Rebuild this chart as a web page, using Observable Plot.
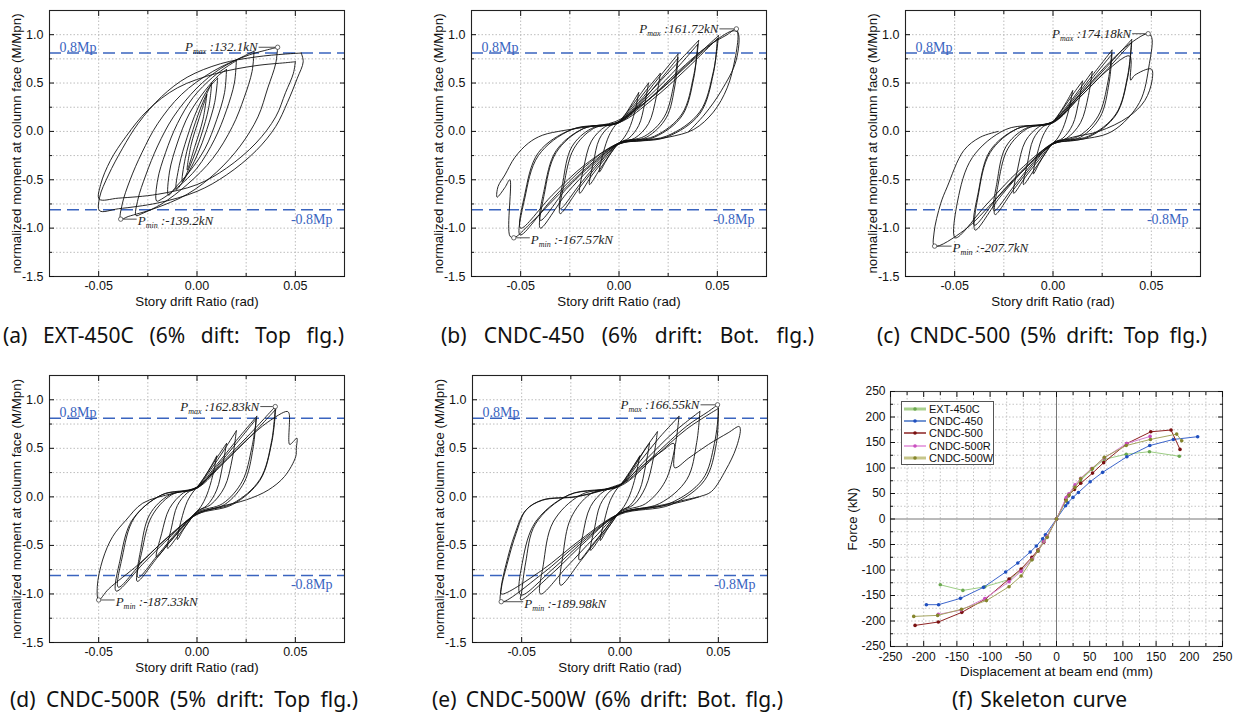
<!DOCTYPE html>
<html><head><meta charset="utf-8">
<script src="https://cdn.jsdelivr.net/npm/d3@7"></script>
<script src="https://cdn.jsdelivr.net/npm/@observablehq/plot@0.6"></script>
<style>
body{margin:0;background:#fff}
#root{position:relative;width:1235px;height:712px;overflow:hidden;background:#fff}
.panel{position:absolute}
.cap{position:absolute;font-family:"Noto Sans","Noto Sans CJK KR",sans-serif;font-size:21px;line-height:22px;height:22px;color:#111;text-align:justify;text-align-last:justify;white-space:normal}
.legend{position:absolute;border:1px solid #555;background:#fff;font-family:"Liberation Sans",Arial,sans-serif;font-size:11px;color:#111}
.legend .row{position:absolute;left:2px;height:12px;line-height:12px;white-space:nowrap}
.legend svg{position:absolute;left:0;top:2px}
.legend span{position:absolute;left:25px;top:0}
</style>
</head><body><div id="root"></div>
<script>
// ---------- tick values ----------
const xMajor = [-0.05, 0, 0.05];
const xMinor = [-0.025, 0.025];
const xGrid = [-0.05, -0.025, 0, 0.025, 0.05];
const yMajor = [-1.5, -1.0, -0.5, 0, 0.5, 1.0];
const yMinor = [-1.25, -0.75, -0.25, 0.25, 0.75];
const yGrid = [-1.25, -1.0, -0.75, -0.5, -0.25, 0, 0.25, 0.5, 0.75, 1.0];
const mpLevels = [0.81, -0.81];

const sMajor = [-250, -200, -150, -100, -50, 0, 50, 100, 150, 200, 250];
const sMinor = [-225, -175, -125, -75, -25, 25, 75, 125, 175, 225];
const sGrid = [-225, -200, -175, -150, -125, -100, -75, -50, -25, 25, 50, 75, 100, 125, 150, 175, 200, 225];

// ---------- (a) EXT-450C loops ----------
const loopsA = [
 [[0.005,0.38],[0.003,0.12],[-0.001,-0.15],[-0.005,-0.40],[-0.003,-0.14],[0.001,0.13],[0.005,0.38]],
 [[0.0075,0.50],[0.006,0.25],[0.002,-0.05],[-0.003,-0.33],[-0.0075,-0.52],[-0.006,-0.28],[-0.002,0.02],[0.003,0.30],[0.0075,0.50]],
 [[0.0105,0.55],[0.009,0.30],[0.005,0.02],[0.0,-0.25],[-0.006,-0.48],[-0.0105,-0.60],[-0.009,-0.35],[-0.005,-0.06],[0.0,0.22],[0.006,0.45],[0.0105,0.55]],
 [[0.015,0.64],[0.014,0.40],[0.010,0.12],[0.004,-0.18],[-0.004,-0.42],[-0.011,-0.58],[-0.0145,-0.66],[-0.014,-0.42],[-0.010,-0.12],[-0.004,0.18],[0.004,0.42],[0.011,0.58],[0.015,0.64]],
 [[0.020,0.73],[0.019,0.50],[0.015,0.22],[0.009,-0.08],[0.000,-0.38],[-0.010,-0.58],[-0.018,-0.70],[-0.0205,-0.72],[-0.020,-0.50],[-0.016,-0.22],[-0.010,0.08],[-0.002,0.35],[0.008,0.56],[0.016,0.68],[0.020,0.73]],
 [[0.029,0.83],[0.028,0.62],[0.024,0.35],[0.018,0.05],[0.008,-0.28],[-0.005,-0.55],[-0.018,-0.75],[-0.028,-0.85],[-0.031,-0.87],[-0.030,-0.70],[-0.026,-0.45],[-0.020,-0.15],[-0.012,0.15],[0.000,0.45],[0.012,0.65],[0.024,0.78],[0.029,0.83]],
 [[0.041,0.87],[0.040,0.70],[0.036,0.45],[0.031,0.15],[0.022,-0.15],[0.010,-0.42],[-0.005,-0.65],[-0.022,-0.80],[-0.035,-0.88],[-0.0388,-0.907],[-0.038,-0.75],[-0.034,-0.50],[-0.028,-0.22],[-0.020,0.08],[-0.008,0.38],[0.008,0.62],[0.025,0.78],[0.037,0.85],[0.041,0.87]],
 [[0.053,0.81],[0.054,0.72],[0.051,0.55],[0.046,0.30],[0.040,0.05],[0.030,-0.20],[0.015,-0.45],[0.0,-0.62],[-0.02,-0.74],[-0.04,-0.80],[-0.0495,-0.82],[-0.0495,-0.68],[-0.045,-0.45],[-0.038,-0.18],[-0.030,0.08],[-0.018,0.36],[-0.005,0.56],[0.012,0.70],[0.030,0.77],[0.045,0.80],[0.053,0.81]],
 [[0.050,0.72],[0.049,0.60],[0.045,0.40],[0.040,0.15],[0.030,-0.12],[0.015,-0.38],[0.0,-0.55],[-0.02,-0.65],[-0.04,-0.69],[-0.0497,-0.70],[-0.049,-0.55],[-0.044,-0.30],[-0.036,-0.05],[-0.025,0.22],[-0.010,0.45],[0.010,0.60],[0.030,0.68],[0.045,0.71],[0.050,0.72]]
];
const pathsA = [];

// ---------- (b) CNDC-450 loops ----------
const loopsB = [
 [[0.01,0.40],[0.008,0.2],[0.005,0.02],[0.002,-0.08],[0,-0.12],[-0.004,-0.22],[-0.007,-0.32],[-0.01,-0.42],[-0.008,-0.22],[-0.005,-0.04],[-0.002,0.06],[0,0.10],[0.004,0.20],[0.007,0.30],[0.01,0.40]],
 [[0.015,0.50],[0.013,0.28],[0.010,0.06],[0.005,-0.07],[0,-0.12],[-0.005,-0.25],[-0.010,-0.40],[-0.015,-0.55],[-0.013,-0.32],[-0.010,-0.08],[-0.005,0.05],[0,0.10],[0.005,0.22],[0.010,0.36],[0.015,0.50]],
 [[0.021,0.60],[0.019,0.36],[0.015,0.08],[0.008,-0.07],[0,-0.12],[-0.007,-0.28],[-0.014,-0.46],[-0.020,-0.64],[-0.018,-0.38],[-0.014,-0.10],[-0.007,0.05],[0,0.10],[0.007,0.25],[0.014,0.43],[0.021,0.60]],
 [[0.030,0.80],[0.028,0.50],[0.023,0.15],[0.013,-0.05],[0,-0.12],[-0.010,-0.33],[-0.020,-0.58],[-0.030,-0.85],[-0.028,-0.55],[-0.023,-0.18],[-0.013,0.03],[0,0.10],[0.010,0.30],[0.020,0.55],[0.030,0.80]],
 [[0.030,0.76],[0.0285,0.48],[0.024,0.14],[0.014,-0.06],[0,-0.13],[-0.010,-0.31],[-0.020,-0.55],[-0.030,-0.80],[-0.0285,-0.52],[-0.024,-0.16],[-0.014,0.03],[0,0.09],[0.010,0.27],[0.020,0.51],[0.030,0.76]],
 [[0.0405,0.94],[0.038,0.58],[0.032,0.18],[0.018,-0.05],[0,-0.12],[-0.013,-0.35],[-0.027,-0.65],[-0.040,-1.0],[-0.038,-0.65],[-0.032,-0.22],[-0.018,0.03],[0,0.10],[0.013,0.35],[0.027,0.65],[0.0405,0.94]],
 [[0.040,0.90],[0.038,0.55],[0.032,0.16],[0.018,-0.06],[0,-0.13],[-0.013,-0.33],[-0.027,-0.60],[-0.040,-0.92],[-0.038,-0.60],[-0.032,-0.2],[-0.018,0.03],[0,0.09],[0.013,0.32],[0.027,0.60],[0.040,0.90]],
 [[0.0506,0.99],[0.048,0.62],[0.041,0.20],[0.024,-0.05],[0,-0.12],[-0.017,-0.36],[-0.034,-0.70],[-0.0503,-1.07],[-0.048,-0.7],[-0.041,-0.25],[-0.024,0.02],[0,0.10],[0.017,0.36],[0.034,0.68],[0.0506,0.99]],
 [[0.050,0.96],[0.048,0.6],[0.041,0.18],[0.024,-0.06],[0,-0.13],[-0.017,-0.34],[-0.034,-0.66],[-0.050,-1.0],[-0.048,-0.66],[-0.041,-0.22],[-0.024,0.02],[0,0.09],[0.017,0.33],[0.034,0.64],[0.050,0.96]]
];
const pathsB = [
 [[0.0,0.10],[0.015,0.33],[0.03,0.62],[0.045,0.88],[0.055,1.0],[0.0597,1.06],[0.0605,1.0],[0.059,0.75],[0.055,0.45],[0.048,0.2],[0.038,0.02],[0.025,-0.06],[0.01,-0.10],[0.0,-0.12],[-0.015,-0.35],[-0.03,-0.64],[-0.045,-0.95],[-0.0535,-1.10],[-0.0555,-1.08],[-0.0555,-0.50],[-0.058,-0.58],[-0.062,-0.68],[-0.0615,-0.57],[-0.058,-0.45],[-0.053,-0.27],[-0.046,-0.12],[-0.039,-0.04],[-0.028,0.01],[-0.015,0.05],[-0.002,0.10],[0.012,0.28],[0.025,0.5],[0.04,0.78],[0.052,0.98],[0.058,1.04],[0.0605,1.02],[0.0595,0.73],[0.052,0.42],[0.0437,0.18],[0.0355,0.0]]
];

// ---------- (c) CNDC-500 loops ----------
const loopsC = [
 [[0.01,0.42],[0.008,0.22],[0.005,0.03],[0.002,-0.08],[0,-0.12],[-0.004,-0.23],[-0.007,-0.33],[-0.01,-0.44],[-0.008,-0.23],[-0.005,-0.04],[-0.002,0.06],[0,0.10],[0.004,0.21],[0.007,0.31],[0.01,0.42]],
 [[0.015,0.52],[0.013,0.30],[0.010,0.07],[0.005,-0.07],[0,-0.12],[-0.005,-0.26],[-0.010,-0.41],[-0.015,-0.55],[-0.013,-0.33],[-0.010,-0.08],[-0.005,0.05],[0,0.10],[0.005,0.23],[0.010,0.38],[0.015,0.52]],
 [[0.020,0.62],[0.018,0.37],[0.014,0.09],[0.007,-0.07],[0,-0.12],[-0.007,-0.29],[-0.014,-0.47],[-0.020,-0.64],[-0.018,-0.39],[-0.014,-0.10],[-0.007,0.05],[0,0.10],[0.007,0.26],[0.014,0.45],[0.020,0.62]],
 [[0.030,0.84],[0.028,0.52],[0.023,0.16],[0.013,-0.05],[0,-0.12],[-0.010,-0.34],[-0.020,-0.60],[-0.0295,-0.86],[-0.028,-0.56],[-0.023,-0.18],[-0.013,0.03],[0,0.10],[0.010,0.32],[0.020,0.58],[0.030,0.84]],
 [[0.030,0.80],[0.0285,0.50],[0.024,0.15],[0.014,-0.06],[0,-0.13],[-0.010,-0.32],[-0.020,-0.57],[-0.030,-0.82],[-0.0285,-0.53],[-0.024,-0.16],[-0.014,0.03],[0,0.09],[0.010,0.30],[0.020,0.55],[0.030,0.80]],
 [[0.040,0.95],[0.038,0.58],[0.032,0.18],[0.018,-0.05],[0,-0.12],[-0.013,-0.36],[-0.027,-0.68],[-0.0396,-1.02],[-0.038,-0.66],[-0.032,-0.22],[-0.018,0.03],[0,0.10],[0.013,0.36],[0.027,0.66],[0.040,0.95]],
 [[0.040,0.92],[0.038,0.56],[0.032,0.17],[0.018,-0.06],[0,-0.13],[-0.013,-0.35],[-0.027,-0.65],[-0.040,-0.97],[-0.038,-0.63],[-0.032,-0.2],[-0.018,0.03],[0,0.09],[0.013,0.34],[0.027,0.63],[0.040,0.92]]
];
const pathsC = [
 [[0,0.10],[0.013,0.36],[0.027,0.68],[0.040,0.92],[0.0484,1.01],[0.0502,0.97],[0.049,0.7],[0.044,0.30],[0.030,0.0],[0.012,-0.09],[0,-0.13],[-0.017,-0.40],[-0.034,-0.76],[-0.0497,-1.10],[-0.0485,-0.72],[-0.041,-0.27],[-0.024,0.02],[0,0.10],[0.013,0.34],[0.027,0.62],[0.039,0.78],[0.0395,0.53],[0.0415,0.58],[0.050,0.645],[0.0504,0.53],[0.0467,0.32],[0.0383,0.15],[0.0233,0.0],[0.010,-0.06],[0,-0.13],[-0.015,-0.40],[-0.030,-0.72],[-0.045,-1.02],[-0.0602,-1.186],[-0.0605,-1.05],[-0.0571,-0.745],[-0.0538,-0.574],[-0.0454,-0.198],[-0.037,-0.06],[-0.0278,0.0]]
];

// ---------- (d) CNDC-500R loops ----------
const loopsD = [
 [[0.01,0.42],[0.008,0.22],[0.005,0.02],[0.002,-0.10],[0,-0.15],[-0.004,-0.25],[-0.007,-0.34],[-0.01,-0.44],[-0.008,-0.24],[-0.005,-0.05],[-0.002,0.05],[0,0.10],[0.004,0.21],[0.007,0.31],[0.01,0.42]],
 [[0.015,0.55],[0.013,0.32],[0.010,0.07],[0.005,-0.09],[0,-0.15],[-0.005,-0.28],[-0.010,-0.41],[-0.015,-0.53],[-0.013,-0.32],[-0.010,-0.09],[-0.005,0.04],[0,0.10],[0.005,0.24],[0.010,0.40],[0.015,0.55]],
 [[0.020,0.68],[0.018,0.40],[0.014,0.10],[0.007,-0.08],[0,-0.15],[-0.007,-0.31],[-0.014,-0.47],[-0.0206,-0.62],[-0.018,-0.38],[-0.014,-0.12],[-0.007,0.04],[0,0.10],[0.007,0.28],[0.014,0.49],[0.020,0.68]],
 [[0.0304,0.83],[0.028,0.52],[0.023,0.16],[0.013,-0.07],[0,-0.16],[-0.010,-0.37],[-0.020,-0.62],[-0.0304,-0.87],[-0.028,-0.56],[-0.023,-0.20],[-0.013,0.02],[0,0.10],[0.010,0.33],[0.020,0.58],[0.0304,0.83]],
 [[0.030,0.80],[0.0285,0.50],[0.024,0.15],[0.014,-0.08],[0,-0.17],[-0.010,-0.36],[-0.020,-0.60],[-0.030,-0.83],[-0.0285,-0.53],[-0.024,-0.18],[-0.014,0.02],[0,0.09],[0.010,0.31],[0.020,0.55],[0.030,0.80]],
 [[0.0398,0.93],[0.038,0.58],[0.032,0.18],[0.018,-0.07],[0,-0.17],[-0.013,-0.40],[-0.027,-0.68],[-0.0411,-0.97],[-0.039,-0.64],[-0.033,-0.24],[-0.018,0.02],[0,0.10],[0.013,0.36],[0.027,0.65],[0.0398,0.93]],
 [[0.040,0.90],[0.038,0.56],[0.032,0.17],[0.018,-0.08],[0,-0.18],[-0.013,-0.38],[-0.027,-0.65],[-0.040,-0.93],[-0.038,-0.62],[-0.032,-0.22],[-0.018,0.02],[0,0.09],[0.013,0.34],[0.027,0.62],[0.040,0.90]]
];
const pathsD = [
 [[0,0.09],[0.012,0.32],[0.025,0.58],[0.036,0.77],[0.0458,0.88],[0.0468,0.86],[0.0471,0.54],[0.049,0.57],[0.0508,0.605],[0.0505,0.50],[0.0502,0.415],[0.0445,0.21],[0.0362,0.07],[0.0252,-0.03],[0.012,-0.10],[0,-0.18],[-0.015,-0.42],[-0.030,-0.70],[-0.045,-0.95],[-0.050,-1.062],[-0.0507,-0.925],[-0.048,-0.65],[-0.0429,-0.41],[-0.0361,-0.24],[-0.0276,-0.065],[-0.0122,0.036],[-0.0003,0.09],[0.008,0.25]]
];

// ---------- (e) CNDC-500W loops ----------
const loopsE = [
 [[0.01,0.42],[0.008,0.22],[0.005,0.02],[0.002,-0.10],[0,-0.15],[-0.004,-0.26],[-0.007,-0.35],[-0.01,-0.45],[-0.008,-0.25],[-0.005,-0.04],[-0.002,0.07],[0,0.12],[0.004,0.22],[0.007,0.32],[0.01,0.42]],
 [[0.015,0.55],[0.013,0.32],[0.010,0.07],[0.005,-0.09],[0,-0.15],[-0.005,-0.29],[-0.010,-0.42],[-0.015,-0.55],[-0.013,-0.33],[-0.010,-0.08],[-0.005,0.06],[0,0.12],[0.005,0.26],[0.010,0.41],[0.015,0.55]],
 [[0.019,0.67],[0.017,0.40],[0.013,0.10],[0.007,-0.08],[0,-0.15],[-0.007,-0.32],[-0.014,-0.49],[-0.0207,-0.65],[-0.019,-0.40],[-0.015,-0.10],[-0.008,0.06],[0,0.12],[0.007,0.30],[0.013,0.50],[0.019,0.67]],
 [[0.030,0.83],[0.028,0.52],[0.023,0.16],[0.013,-0.07],[0,-0.16],[-0.010,-0.40],[-0.020,-0.66],[-0.0302,-0.91],[-0.029,-0.60],[-0.025,-0.22],[-0.015,0.03],[0,0.12],[0.010,0.36],[0.020,0.61],[0.030,0.83]],
 [[0.0406,0.88],[0.039,0.56],[0.034,0.18],[0.020,-0.07],[0,-0.17],[-0.013,-0.42],[-0.027,-0.72],[-0.0404,-1.0],[-0.039,-0.70],[-0.034,-0.26],[-0.020,0.02],[0,0.12],[0.013,0.38],[0.027,0.66],[0.0406,0.88]],
 [[0.0496,0.948],[0.050,0.90],[0.048,0.55],[0.042,0.18],[0.025,-0.07],[0,-0.17],[-0.017,-0.45],[-0.034,-0.78],[-0.0505,-1.06],[-0.050,-0.98],[-0.048,-0.68],[-0.043,-0.28],[-0.026,0.02],[0,0.12],[0.017,0.42],[0.034,0.73],[0.045,0.88],[0.0496,0.948]],
 [[0.050,0.91],[0.049,0.55],[0.043,0.17],[0.026,-0.08],[0,-0.18],[-0.017,-0.43],[-0.034,-0.74],[-0.0505,-1.01],[-0.0495,-0.66],[-0.043,-0.26],[-0.026,0.02],[0,0.11],[0.017,0.40],[0.034,0.70],[0.050,0.91]]
];
const pathsE = [
 [[0.0014,0.14],[0.012,0.33],[0.022,0.48],[0.0274,0.55],[0.0278,0.30],[0.035,0.40],[0.045,0.54],[0.055,0.66],[0.0606,0.725],[0.0612,0.69],[0.059,0.50],[0.0538,0.278],[0.0465,0.055],[0.0406,0.003],[0.025,-0.08],[0.010,-0.13],[0,-0.17],[-0.020,-0.46],[-0.040,-0.80],[-0.0604,-1.08],[-0.0604,-0.95],[-0.0575,-0.70],[-0.0528,-0.375],[-0.0477,-0.134],[-0.0393,-0.031],[-0.0224,0.003],[-0.0088,0.07],[0.0014,0.14]],
 [[0.040,0.0],[0.02,-0.09],[0,-0.17],[-0.02,-0.44],[-0.04,-0.76],[-0.0604,-1.0],[-0.0604,-0.93],[-0.058,-0.70],[-0.0535,-0.385],[-0.048,-0.14],[-0.0395,-0.035],[-0.0224,0.0],[-0.009,0.065],[0.0,0.12]]
];

// ---------- (f) skeleton curves ----------
const skelNames = ["EXT-450C", "CNDC-450", "CNDC-500", "CNDC-500R", "CNDC-500W"];
const extX  = [-175,-141,-108,-70,-53,-37,-28,-20,-14,0,14,18,27,36,53,72,105,140,185];
const extY  = [-129,-140,-133,-118,-100,-80,-62,-44,-33,0,36,45,63,75,97,117,127,132,123];
const c450X = [-196,-177.6,-144.6,-110,-76.6,-58.3,-39.6,-30.4,-20.8,-16.7,0,13.7,17,24.8,33,50.7,69.5,106,140.5,176,212.6];
const c450Y = [-168,-168,-155.6,-134,-104,-86.3,-64.8,-53,-38.6,-30.8,0,26,31.7,42.4,52,73,91.5,122,144,156,161.4];
const c500X = [-213,-178,-142.6,-107,-71.5,-53.3,-37,-27.9,-19.3,-14.2,0,14,18,27,36.5,54.3,71,106,142,172.5,186];
const c500Y = [-208.6,-202,-183,-157,-117.7,-98,-75,-60.8,-45.8,-35,0,38,46,58,70,90,110.5,148,171,174.5,136.5];
const c500RX = [-178,-143.5,-108,-71.5,-53.3,-36,-28,-19,-14,0,14.7,18.7,27.9,36.5,53,72,105.5,141];
const c500RY = [-187,-178.5,-156,-123,-102.7,-78,-63,-44,-34,0,42,49.6,67,80,99,119.6,148,162];
const c500WX = [-215,-179,-143,-105.5,-71.5,-53.3,-37,-28,-14,0,14.5,19,28,36.5,54,72,105,141.5,181,188.6];
const c500WY = [-191,-189,-177,-160,-132.7,-111.8,-80,-63,-36,0,36,47,62,79,99,121,144,156,166.5,153.5];

// ---------- styling ----------
const lineColors = ["#9ccc84", "#3d66cc", "#8e2222", "#d77ed0", "#a5a560"];
const dotColors  = ["#6aa84f", "#1f4fbf", "#7a1010", "#c94fc0", "#85852c"];
const legendLineColors = ["#a9d18e", "#4472c4", "#8b2323", "#e08bd8", "#c6c68a"];
const legendLineWidths = [3, 1.5, 1.5, 1.5, 3];
const blue = "#3a64bf";
const sans = "Liberation Sans, Arial, sans-serif";
const serif = "Liberation Serif, Times New Roman, serif";

const root = document.getElementById("root");

function subscriptify(svg) {
  d3.select(svg).selectAll("text").each(function () {
    const t = this.textContent;
    const m = t.match(/^P_(max|min)(.*)$/);
    if (!m) return;
    const sel = d3.select(this);
    sel.text(null);
    sel.append("tspan").text("P");
    sel.append("tspan").attr("font-size", 8).attr("dy", 3).text(m[1]);
    sel.append("tspan").attr("dy", -3).text(m[2]);
  });
}

function place(node, left, top) {
  const d = document.createElement("div");
  d.className = "panel";
  d.style.left = left + "px";
  d.style.top = top + "px";
  d.appendChild(node);
  root.appendChild(d);
}

function caption(text, left, width, centerY) {
  const d = document.createElement("div");
  d.className = "cap";
  d.style.left = left + "px";
  d.style.width = width + "px";
  d.style.top = (centerY - 11) + "px";
  d.textContent = text;
  root.appendChild(d);
}

function hyst(cfg) {
  const plotW = 295, plotH = cfg.plotH;
  const kx = 0.15 / plotW;
  const toRows = (arr, pre) => arr.flatMap((pts, i) => pts.map(([x, y]) => ({x, y, k: pre + i})));
  const data = toRows(cfg.loops, "L").concat(toRows(cfg.paths, "P"));
  const pmax = cfg.pmax, pmin = cfg.pmin;
  const svg = Plot.plot({
    width: 49 + plotW + 6, height: 10 + plotH + 40,
    marginLeft: 49, marginRight: 6, marginTop: 10, marginBottom: 40,
    x: {domain: [-0.075, 0.075]},
    y: {domain: [-1.5, 1.25]},
    style: {fontFamily: sans, fontSize: "12.5px", background: "white", color: "#111", overflow: "visible"},
    marks: [
      Plot.gridX(xGrid, {stroke: "#bdbdbd", strokeOpacity: 1, strokeDasharray: "1.5,2"}),
      Plot.gridY(yGrid, {stroke: "#bdbdbd", strokeOpacity: 1, strokeDasharray: "1.5,2"}),
      Plot.ruleY(mpLevels, {stroke: blue, strokeWidth: 1.4, strokeDasharray: "12,6"}),
      Plot.line(data, {x: "x", y: "y", z: "k", curve: "catmull-rom", stroke: "#111", strokeWidth: 0.9}),
      Plot.text(["0.8Mp"], {x: -0.075, y: 0.81, dx: 10, dy: -1, textAnchor: "start", lineAnchor: "bottom", fill: blue, fontFamily: serif, fontSize: 14}),
      Plot.text(["-0.8Mp"], {x: 0.075, y: -0.81, dx: -12, dy: 4, textAnchor: "end", lineAnchor: "top", fill: blue, fontFamily: serif, fontSize: 14}),
      Plot.link([pmax], {x1: d => d[0] - cfg.gapMax * kx, x2: d => d[0] - 2.5 * kx, y1: d => d[1], y2: d => d[1], stroke: "#222", strokeWidth: 0.8}),
      Plot.link([pmin], {x1: d => d[0] + 2.5 * kx, x2: d => d[0] + cfg.gapMin * kx, y1: d => d[1], y2: d => d[1], stroke: "#222", strokeWidth: 0.8}),
      Plot.dot([pmax, pmin], {x: d => d[0], y: d => d[1], r: 2.2, stroke: "#444", fill: "white", strokeWidth: 0.8}),
      Plot.text([cfg.pmaxText], {x: pmax[0], y: pmax[1], dx: -(cfg.gapMax + 1), textAnchor: "end", fontFamily: serif, fontStyle: "italic", fontSize: 13, fill: "#222"}),
      Plot.text([cfg.pminText], {x: pmin[0], y: pmin[1], dx: cfg.gapMin + 1, dy: 2, textAnchor: "start", fontFamily: serif, fontStyle: "italic", fontSize: 13, fill: "#222"}),
      Plot.frame({stroke: "#222", strokeWidth: 1.1}),
      Plot.axisX(xMajor, {anchor: "bottom", tickSize: -5, tickPadding: 10, tickFormat: v => v.toFixed(2), label: null}),
      Plot.axisX(xMinor, {anchor: "bottom", tickSize: -3, tickFormat: () => "", label: null}),
      Plot.axisX(xMajor, {anchor: "top", tickSize: -5, tickFormat: () => "", label: null}),
      Plot.axisX(xMinor, {anchor: "top", tickSize: -3, tickFormat: () => "", label: null}),
      Plot.axisY(yMajor, {anchor: "left", tickSize: -5, tickPadding: 11, tickFormat: v => v.toFixed(1), label: null}),
      Plot.axisY(yMinor, {anchor: "left", tickSize: -3, tickFormat: () => "", label: null}),
      Plot.axisY(yMajor, {anchor: "right", tickSize: -5, tickFormat: () => "", label: null}),
      Plot.axisY(yMinor, {anchor: "right", tickSize: -3, tickFormat: () => "", label: null}),
      Plot.text(["normalized moment at column face (M/Mpn)"], {frameAnchor: "left", textAnchor: "middle", dx: -33, rotate: -90, fontSize: 13.3, fill: "#111"}),
      Plot.text(["Story drift Ratio (rad)"], {frameAnchor: "bottom", textAnchor: "middle", dy: 29, fontSize: 13.3, fill: "#111"})
    ]
  });
  subscriptify(svg);
  return svg;
}

const panels = [
  {left: 0, top: 0, plotH: 266, loops: loopsA, paths: pathsA, pmax: [0.041, 0.87], pmin: [-0.0388, -0.907], gapMax: 19, gapMin: 16, pmaxText: "P_max :132.1kN", pminText: "P_min :-139.2kN"},
  {left: 422, top: 0, plotH: 266, loops: loopsB, paths: pathsB, pmax: [0.0597, 1.06], pmin: [-0.0535, -1.10], gapMax: 17, gapMin: 16, pmaxText: "P_max :161.72kN", pminText: "P_min :-167.57kN"},
  {left: 856, top: 0, plotH: 266, loops: loopsC, paths: pathsC, pmax: [0.0484, 1.01], pmin: [-0.0602, -1.186], gapMax: 16, gapMin: 17, pmaxText: "P_max :174.18kN", pminText: "P_min :-207.7kN"},
  {left: 0, top: 365, plotH: 267, loops: loopsD, paths: pathsD, pmax: [0.0398, 0.93], pmin: [-0.050, -1.062], gapMax: 15, gapMin: 16, pmaxText: "P_max :162.83kN", pminText: "P_min :-187.33kN"},
  {left: 423, top: 365, plotH: 267, loops: loopsE, paths: pathsE, pmax: [0.0496, 0.948], pmin: [-0.0604, -1.08], gapMax: 17, gapMin: 22, pmaxText: "P_max :166.55kN", pminText: "P_min :-189.98kN"}
];
panels.forEach(p => place(hyst(p), p.left, p.top));

// ---------- skeleton plot ----------
const skelX = [extX, c450X, c500X, c500RX, c500WX];
const skelY = [extY, c450Y, c500Y, c500RY, c500WY];
const skelMarks = [];
skelNames.forEach((name, i) => {
  const rows = skelX[i].map((x, j) => ({x, y: skelY[i][j], s: name}));
  skelMarks.push(Plot.line(rows, {x: "x", y: "y", stroke: lineColors[i], strokeWidth: 1}));
  skelMarks.push(Plot.dot(rows, {x: "x", y: "y", r: 1.8, fill: dotColors[i], stroke: "none"}));
});
const skel = Plot.plot({
  width: 395, height: 305,
  marginLeft: 55, marginRight: 8, marginTop: 10, marginBottom: 40,
  x: {domain: [-250, 250]},
  y: {domain: [-250, 250]},
  style: {fontFamily: sans, fontSize: "12px", background: "white", color: "#111", overflow: "visible"},
  marks: [
    Plot.gridX(sGrid, {stroke: "#c4c4c4", strokeOpacity: 1, strokeDasharray: "1.5,2"}),
    Plot.gridY(sGrid, {stroke: "#c4c4c4", strokeOpacity: 1, strokeDasharray: "1.5,2"}),
    Plot.ruleX([0], {stroke: "#777", strokeWidth: 1}),
    Plot.ruleY([0], {stroke: "#777", strokeWidth: 1}),
    ...skelMarks,
    Plot.frame({stroke: "#444", strokeWidth: 1.1}),
    Plot.axisX(sMajor, {anchor: "bottom", tickSize: -5, tickPadding: 11, tickFormat: v => String(v), label: null}),
    Plot.axisX(sMinor, {anchor: "bottom", tickSize: -3, tickFormat: () => "", label: null}),
    Plot.axisX(sMajor, {anchor: "top", tickSize: -5, tickFormat: () => "", label: null}),
    Plot.axisX(sMinor, {anchor: "top", tickSize: -3, tickFormat: () => "", label: null}),
    Plot.axisY(sMajor, {anchor: "left", tickSize: -5, tickPadding: 10, tickFormat: v => String(v), label: null}),
    Plot.axisY(sMinor, {anchor: "left", tickSize: -3, tickFormat: () => "", label: null}),
    Plot.axisY(sMajor, {anchor: "right", tickSize: -5, tickFormat: () => "", label: null}),
    Plot.axisY(sMinor, {anchor: "right", tickSize: -3, tickFormat: () => "", label: null}),
    Plot.text(["Force (kN)"], {frameAnchor: "left", textAnchor: "middle", dx: -38, rotate: -90, fontSize: 13.3, fill: "#111"}),
    Plot.text(["Displacement at beam end (mm)"], {frameAnchor: "bottom", textAnchor: "middle", dy: 29, fontSize: 13.3, fill: "#111"})
  ]
});
place(skel, 835, 381);

// legend
const lg = document.createElement("div");
lg.className = "legend";
lg.style.left = "901px"; lg.style.top = "401px"; lg.style.width = "91px"; lg.style.height = "62px";
skelNames.forEach((name, i) => {
  const row = document.createElement("div");
  row.className = "row";
  row.style.top = (1 + i * 12.2) + "px";
  row.innerHTML = `<svg width="22" height="8"><line x1="0" y1="4" x2="22" y2="4" stroke="${legendLineColors[i]}" stroke-width="${legendLineWidths[i]}"/><circle cx="11" cy="4" r="1.8" fill="${dotColors[i]}"/></svg><span>${name}</span>`;
  lg.appendChild(row);
});
root.appendChild(lg);

// captions
caption("(a) EXT-450C (6% dift: Top flg.)", 3, 341, 335);
caption("(b) CNDC-450 (6% drift: Bot. flg.)", 441, 373, 335);
caption("(c) CNDC-500 (5% drift: Top flg.)", 877, 330, 335);
caption("(d) CNDC-500R (5% drift: Top flg.)", 10, 348, 699);
caption("(e) CNDC-500W (6% drift: Bot. flg.)", 432, 351, 699);
caption("(f) Skeleton curve", 952, 175, 699);
</script>
</body></html>
